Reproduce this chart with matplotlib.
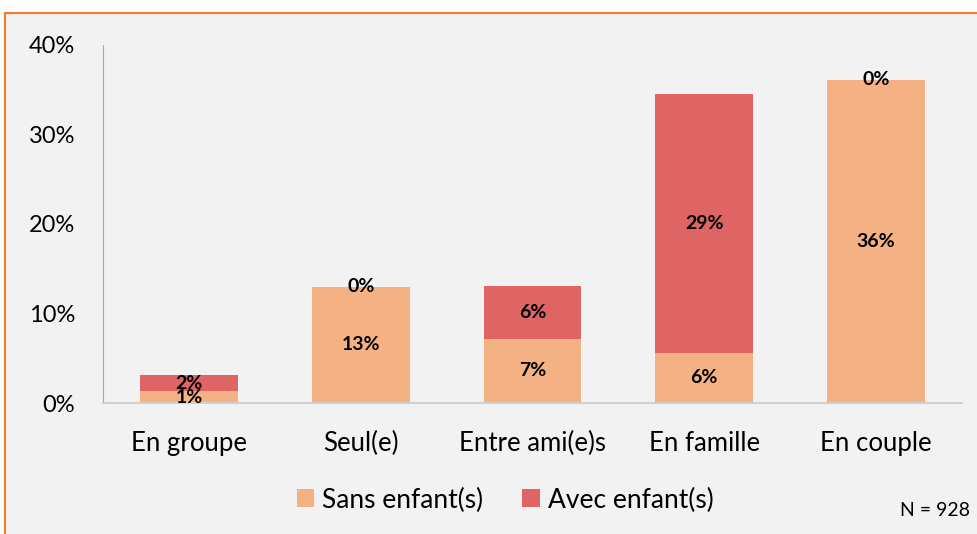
import matplotlib.pyplot as plt
import numpy as np
from matplotlib.patches import Rectangle

categories = ['En groupe', 'Seul(e)', 'Entre ami(e)s', 'En famille', 'En couple']
sans_enfant = [1.3, 13.0, 7.2, 5.6, 36.1]
avec_enfant = [1.8, 0.0, 5.9, 28.9, 0.0]
sans_labels = ['1%', '13%', '7%', '6%', '36%']
avec_labels = ['2%', '0%', '6%', '29%', '0%']

c_sans = '#F4B183'
c_avec = '#DF6464'
font = 'Lato'

fig = plt.figure(figsize=(9.78, 5.34), dpi=100)
fig.patch.set_facecolor('white')
# panel background with orange frame
fig.patches.append(Rectangle((5 / 978, -0.05), 1.1, 1 - 13 / 534 + 0.05,
                             transform=fig.transFigure, facecolor='#F2F2F2',
                             edgecolor='#ED7D31', linewidth=1.5, zorder=-5))

ax = fig.add_axes([103 / 978, 1 - 403 / 534, (962 - 103) / 978, (403 - 45) / 534])
ax.set_facecolor('none')
x = np.arange(len(categories))
ax.bar(x, sans_enfant, width=0.57, color=c_sans, label='Sans enfant(s)', zorder=2)
ax.bar(x, avec_enfant, width=0.57, bottom=sans_enfant, color=c_avec,
       label='Avec enfant(s)', zorder=2)

for i in range(len(categories)):
    ax.text(x[i], sans_enfant[i] / 2, sans_labels[i], ha='center', va='center',
            fontsize=14, fontweight='bold', family=font, zorder=3)
    ax.text(x[i], sans_enfant[i] + avec_enfant[i] / 2, avec_labels[i], ha='center',
            va='center', fontsize=14, fontweight='bold', family=font, zorder=3)

ax.set_xlim(-0.5, len(categories) - 0.5)
ax.set_ylim(0, 40)
ax.set_yticks([0, 10, 20, 30, 40])
ax.set_yticklabels(['0%', '10%', '20%', '30%', '40%'], family=font, fontsize=17)
ax.set_xticks(x)
ax.set_xticklabels(categories, family=font, fontsize=18.5)
ax.tick_params(axis='y', length=0, pad=20)
ax.tick_params(axis='x', length=0, pad=20)
for s in ['top', 'right']:
    ax.spines[s].set_visible(False)
ax.spines['left'].set_color('#A6A6A6')
ax.spines['bottom'].set_color('#D0D0D0')
ax.spines['bottom'].set_linewidth(1.5)

fig.legend(loc='center', bbox_to_anchor=(505 / 978, 1 - 500 / 534), ncol=2,
           frameon=False, prop={'family': font, 'size': 19}, handlelength=0.65,
           handleheight=0.65, handletextpad=0.3, columnspacing=1.5)
fig.text(970 / 978, 1 - 511 / 534, 'N = 928', ha='right', va='center',
         family=font, fontsize=14)

fig.savefig('out.png', dpi=100, facecolor=fig.get_facecolor())
